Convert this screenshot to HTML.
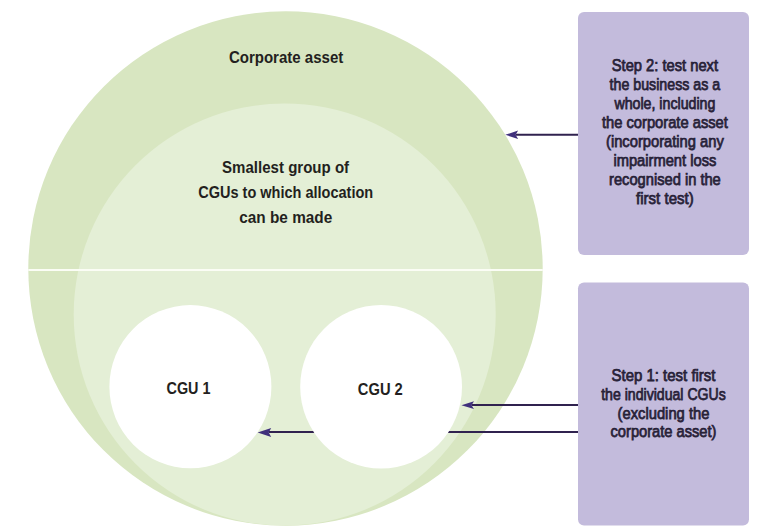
<!DOCTYPE html>
<html><head><meta charset="utf-8"><style>
html,body{margin:0;padding:0;background:#fff;width:757px;height:532px;overflow:hidden}
svg{display:block}
text{font-family:"Liberation Sans",sans-serif;font-weight:bold}
text.bx{font-weight:normal;fill:#282238;stroke:#282238;stroke-width:0.75px}
</style></head><body>
<svg width="757" height="532" viewBox="0 0 757 532" xmlns="http://www.w3.org/2000/svg">
<circle cx="285.5" cy="268.5" r="257.2" fill="#d8e6c1"/>
<circle cx="284.7" cy="314.5" r="211" fill="#e4efd6"/>
<rect x="28.3" y="269" width="514.5" height="2" fill="#fbfdf5"/>
<line x1="578" y1="432.0" x2="268.7" y2="432.0" stroke="#30224f" stroke-width="2.0"/><path d="M257.6,432.5 L271.2,428.0 L268.7,432.5 L271.2,437.0 Z" fill="#40307c"/>
<ellipse cx="190.4" cy="386.7" rx="81" ry="81.6" fill="#ffffff"/>
<ellipse cx="381.1" cy="386.8" rx="80.9" ry="81.8" fill="#ffffff"/>
<line x1="578" y1="134.8" x2="515.6" y2="134.8" stroke="#30224f" stroke-width="2.0"/><path d="M505.3,134.8 L518.1,130.6 L515.6,134.8 L518.1,139.0 Z" fill="#40307c"/>
<line x1="578" y1="405.0" x2="471.5" y2="405.0" stroke="#30224f" stroke-width="2.0"/><path d="M461.4,405.2 L474.0,401.3 L471.5,405.2 L474.0,409.1 Z" fill="#40307c"/>
<rect x="578" y="12" width="171" height="243" rx="6" fill="#c3bbdc"/>
<rect x="578" y="282.5" width="171" height="243" rx="6" fill="#c3bbdc"/>
<text x="286.1" y="62.6" font-size="16" text-anchor="middle" textLength="114.4" lengthAdjust="spacingAndGlyphs" fill="#231f20">Corporate asset</text>
<text x="285.6" y="172.9" font-size="16" text-anchor="middle" textLength="127" lengthAdjust="spacingAndGlyphs" fill="#231f20">Smallest group of</text>
<text x="285.7" y="197.6" font-size="16" text-anchor="middle" textLength="175" lengthAdjust="spacingAndGlyphs" fill="#231f20">CGUs to which allocation</text>
<text x="285.75" y="222.8" font-size="16" text-anchor="middle" textLength="93" lengthAdjust="spacingAndGlyphs" fill="#231f20">can be made</text>
<text x="188.5" y="394.4" font-size="16" text-anchor="middle" textLength="44" lengthAdjust="spacingAndGlyphs" fill="#231f20">CGU 1</text>
<text x="380.3" y="394.6" font-size="16" text-anchor="middle" textLength="45" lengthAdjust="spacingAndGlyphs" fill="#231f20">CGU 2</text>
<text class="bx" x="664.9" y="71.0" font-size="16.3" text-anchor="middle" textLength="106.2" lengthAdjust="spacingAndGlyphs">Step 2: test next</text>
<text class="bx" x="664.9" y="90.07" font-size="16.3" text-anchor="middle" textLength="110.6" lengthAdjust="spacingAndGlyphs">the business as a</text>
<text class="bx" x="664.9" y="109.14" font-size="16.3" text-anchor="middle" textLength="101.0" lengthAdjust="spacingAndGlyphs">whole, including</text>
<text class="bx" x="664.9" y="128.21" font-size="16.3" text-anchor="middle" textLength="126.0" lengthAdjust="spacingAndGlyphs">the corporate asset</text>
<text class="bx" x="664.9" y="147.28" font-size="16.3" text-anchor="middle" textLength="117.8" lengthAdjust="spacingAndGlyphs">(incorporating any</text>
<text class="bx" x="664.9" y="166.35" font-size="16.3" text-anchor="middle" textLength="103.0" lengthAdjust="spacingAndGlyphs">impairment loss</text>
<text class="bx" x="664.9" y="185.42" font-size="16.3" text-anchor="middle" textLength="111.8" lengthAdjust="spacingAndGlyphs">recognised in the</text>
<text class="bx" x="664.9" y="204.49" font-size="16.3" text-anchor="middle" textLength="57.6" lengthAdjust="spacingAndGlyphs">first test)</text>
<text class="bx" x="663.5" y="381.0" font-size="16.3" text-anchor="middle" textLength="104.0" lengthAdjust="spacingAndGlyphs">Step 1: test first</text>
<text class="bx" x="663.5" y="399.83" font-size="16.3" text-anchor="middle" textLength="124.6" lengthAdjust="spacingAndGlyphs">the individual CGUs</text>
<text class="bx" x="663.5" y="418.66" font-size="16.3" text-anchor="middle" textLength="91.8" lengthAdjust="spacingAndGlyphs">(excluding the</text>
<text class="bx" x="663.5" y="437.49" font-size="16.3" text-anchor="middle" textLength="106.0" lengthAdjust="spacingAndGlyphs">corporate asset)</text>
</svg>
</body></html>
